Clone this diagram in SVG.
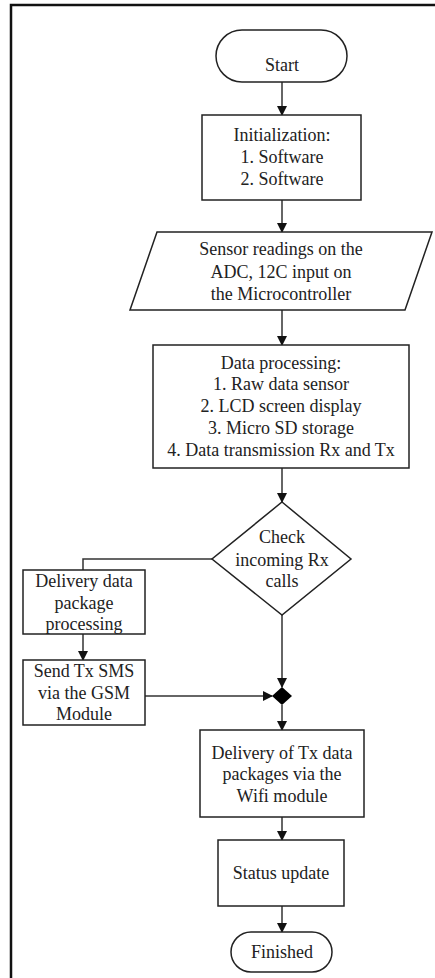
<svg xmlns="http://www.w3.org/2000/svg" width="435" height="978" viewBox="0 0 435 978">
<style>
.s{fill:#fff;stroke:#222;stroke-width:1.5}
.t{font-family:"Liberation Serif","Times New Roman",serif;font-size:18px;fill:#222;text-anchor:middle}
.c{fill:none;stroke:#333;stroke-width:1.5}
.f{fill:none;stroke:#111;stroke-width:2.5}
</style>
<defs>
<marker id="a" markerWidth="10" markerHeight="10" refX="9" refY="5" orient="auto" markerUnits="userSpaceOnUse">
<path d="M0,0 L10,5 L0,10 Z" fill="#111"/>
</marker>
</defs>
<rect width="435" height="978" fill="#fff"/>
<path class="f" d="M11,978 V5 H435"/>
<g id="connectors">
<line class="c" x1="282" y1="82" x2="282" y2="115" marker-end="url(#a)"/>
<line class="c" x1="282" y1="200" x2="282" y2="232" marker-end="url(#a)"/>
<line class="c" x1="282" y1="310" x2="282" y2="345" marker-end="url(#a)"/>
<line class="c" x1="282" y1="468" x2="282" y2="502" marker-end="url(#a)"/>
<polyline class="c" points="212,559 83,559 83,570"/>
<line class="c" x1="83" y1="634" x2="83" y2="660" marker-end="url(#a)"/>
<line class="c" x1="282" y1="615" x2="282" y2="687" marker-end="url(#a)"/>
<line class="c" x1="145" y1="696" x2="272" y2="696" marker-end="url(#a)"/>
<line class="c" x1="282" y1="705" x2="282" y2="730" marker-end="url(#a)"/>
<line class="c" x1="282" y1="817" x2="282" y2="840" marker-end="url(#a)"/>
<line class="c" x1="282" y1="906" x2="282" y2="932" marker-end="url(#a)"/>
</g>
<g id="start">
<rect class="s" x="216" y="30" width="131" height="52" rx="26"/>
<text class="t" x="282" y="71">Start</text>
</g>
<g id="init">
<rect class="s" x="202" y="115" width="159" height="85"/>
<text class="t" x="282" y="141">Initialization:</text>
<text class="t" x="282" y="163">1. Software</text>
<text class="t" x="282" y="185">2. Software</text>
</g>
<g id="sensor">
<polygon class="s" points="157,232 432,232 405,310 130,310"/>
<text class="t" x="281" y="255">Sensor readings on the</text>
<text class="t" x="281" y="278">ADC, 12C input on</text>
<text class="t" x="281" y="300">the Microcontroller</text>
</g>
<g id="processing">
<rect class="s" x="153" y="345" width="256" height="123"/>
<text class="t" x="281" y="369">Data processing:</text>
<text class="t" x="281" y="390">1. Raw data sensor</text>
<text class="t" x="281" y="412">2. LCD screen display</text>
<text class="t" x="281" y="434">3. Micro SD storage</text>
<text class="t" x="281" y="456">4. Data transmission Rx and Tx</text>
</g>
<g id="check">
<polygon class="s" points="282,502 351,559 282,615 212,559"/>
<text class="t" x="282" y="543">Check</text>
<text class="t" x="282" y="566">incoming Rx</text>
<text class="t" x="282" y="587">calls</text>
</g>
<g id="delivery-pkg">
<rect class="s" x="23" y="570" width="122" height="64"/>
<text class="t" x="84" y="587">Delivery data</text>
<text class="t" x="84" y="609">package</text>
<text class="t" x="84" y="630">processing</text>
</g>
<g id="sms">
<rect class="s" x="23" y="660" width="122" height="65"/>
<text class="t" x="84" y="677">Send Tx SMS</text>
<text class="t" x="84" y="699">via the GSM</text>
<text class="t" x="84" y="720">Module</text>
</g>
<g id="merge">
<polygon points="282,687 292,696 282,705 272,696" fill="#000"/>
</g>
<g id="wifi">
<rect class="s" x="200" y="730" width="164" height="87"/>
<text class="t" x="282" y="759">Delivery of Tx data</text>
<text class="t" x="282" y="780">packages via the</text>
<text class="t" x="282" y="802">Wifi module</text>
</g>
<g id="status">
<rect class="s" x="218" y="840" width="126" height="66"/>
<text class="t" x="281" y="879">Status update</text>
</g>
<g id="finished">
<rect class="s" x="231" y="932" width="101" height="40" rx="20"/>
<text class="t" x="282" y="958">Finished</text>
</g>
</svg>
